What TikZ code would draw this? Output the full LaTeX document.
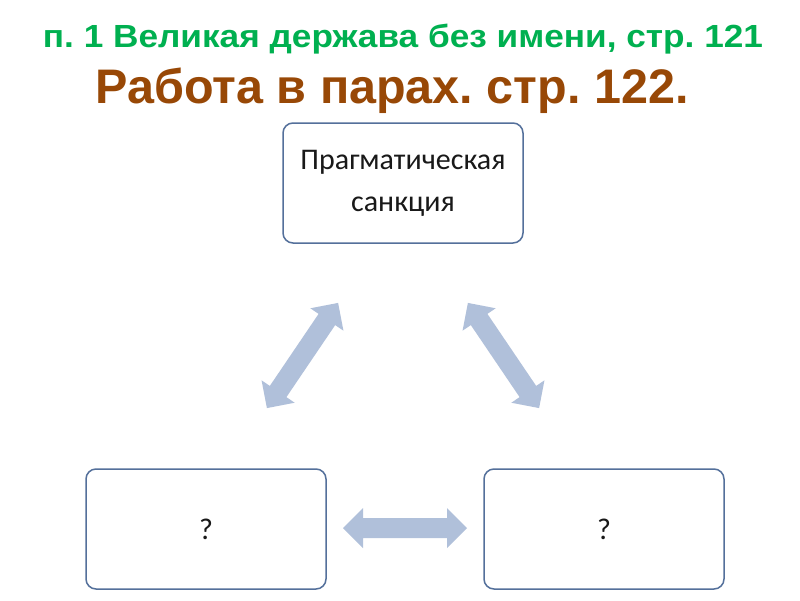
\documentclass[tikz,border=0pt]{standalone}
\usepackage{fontspec}
\setmainfont{Carlito}
\newfontfamily\titlefont{Liberation Sans}
\frenchspacing
\definecolor{ttlgreen}{RGB}{0,176,80}
\definecolor{ttlbrown}{RGB}{152,72,6}
\definecolor{boxline}{RGB}{84,112,155}
\definecolor{arrfill}{RGB}{176,192,218}
\tikzset{
  box/.style={draw=boxline, line width=1.5pt, rounded corners=10pt, fill=white,
    minimum width=240pt, minimum height=120pt, align=center, inner sep=0pt,
    font=\fontsize{30}{42}\selectfont, text=black!90},
  blockarrow/.style={fill=arrfill, draw=none},
  ttlA/.style={font=\titlefont\bfseries\fontsize{32}{36}\selectfont, text=ttlgreen, anchor=base, inner sep=0pt, xscale=1.1},
  ttlB/.style={font=\titlefont\bfseries\fontsize{48.5}{52}\selectfont, text=ttlbrown, anchor=base, inner sep=0pt}
}
% #1 centre coordinate, #2 angle, #3 half length
\newcommand{\dblarrow}[3]{%
  \begin{scope}[shift={(#1)}, rotate=#2]
    \fill[blockarrow] (-#3,0) -- (-#3+20,20) -- (-#3+20,10) -- (#3-20,10) -- (#3-20,20)
      -- (#3,0) -- (#3-20,-20) -- (#3-20,-10) -- (-#3+20,-10) -- (-#3+20,-20) -- cycle;
  \end{scope}}
\begin{document}
\begin{tikzpicture}[x=1pt,y=-1pt]
\useasboundingbox[fill=white] (0,0) rectangle (800,600);
\node[ttlA] (t1) at (403,47) {п. 1 Великая держава без имени, стр. 121};
\node[ttlB] (t2) at (392,103) {Работа в парах. стр. 122.};
\node[box] (top) at (403,183) {Прагматическая\\санкция};
\node[box] (bl) at (206,529) {?};
\node[box] (br) at (604,529) {?};
\coordinate (ah) at (405,528);
\coordinate (al) at (302.5,355.5);
\coordinate (ar) at (503.5,355.5);
\dblarrow{ah}{0}{62}
\dblarrow{al}{55.9}{63.5}
\dblarrow{ar}{-55.9}{63.5}
\end{tikzpicture}
\end{document}
